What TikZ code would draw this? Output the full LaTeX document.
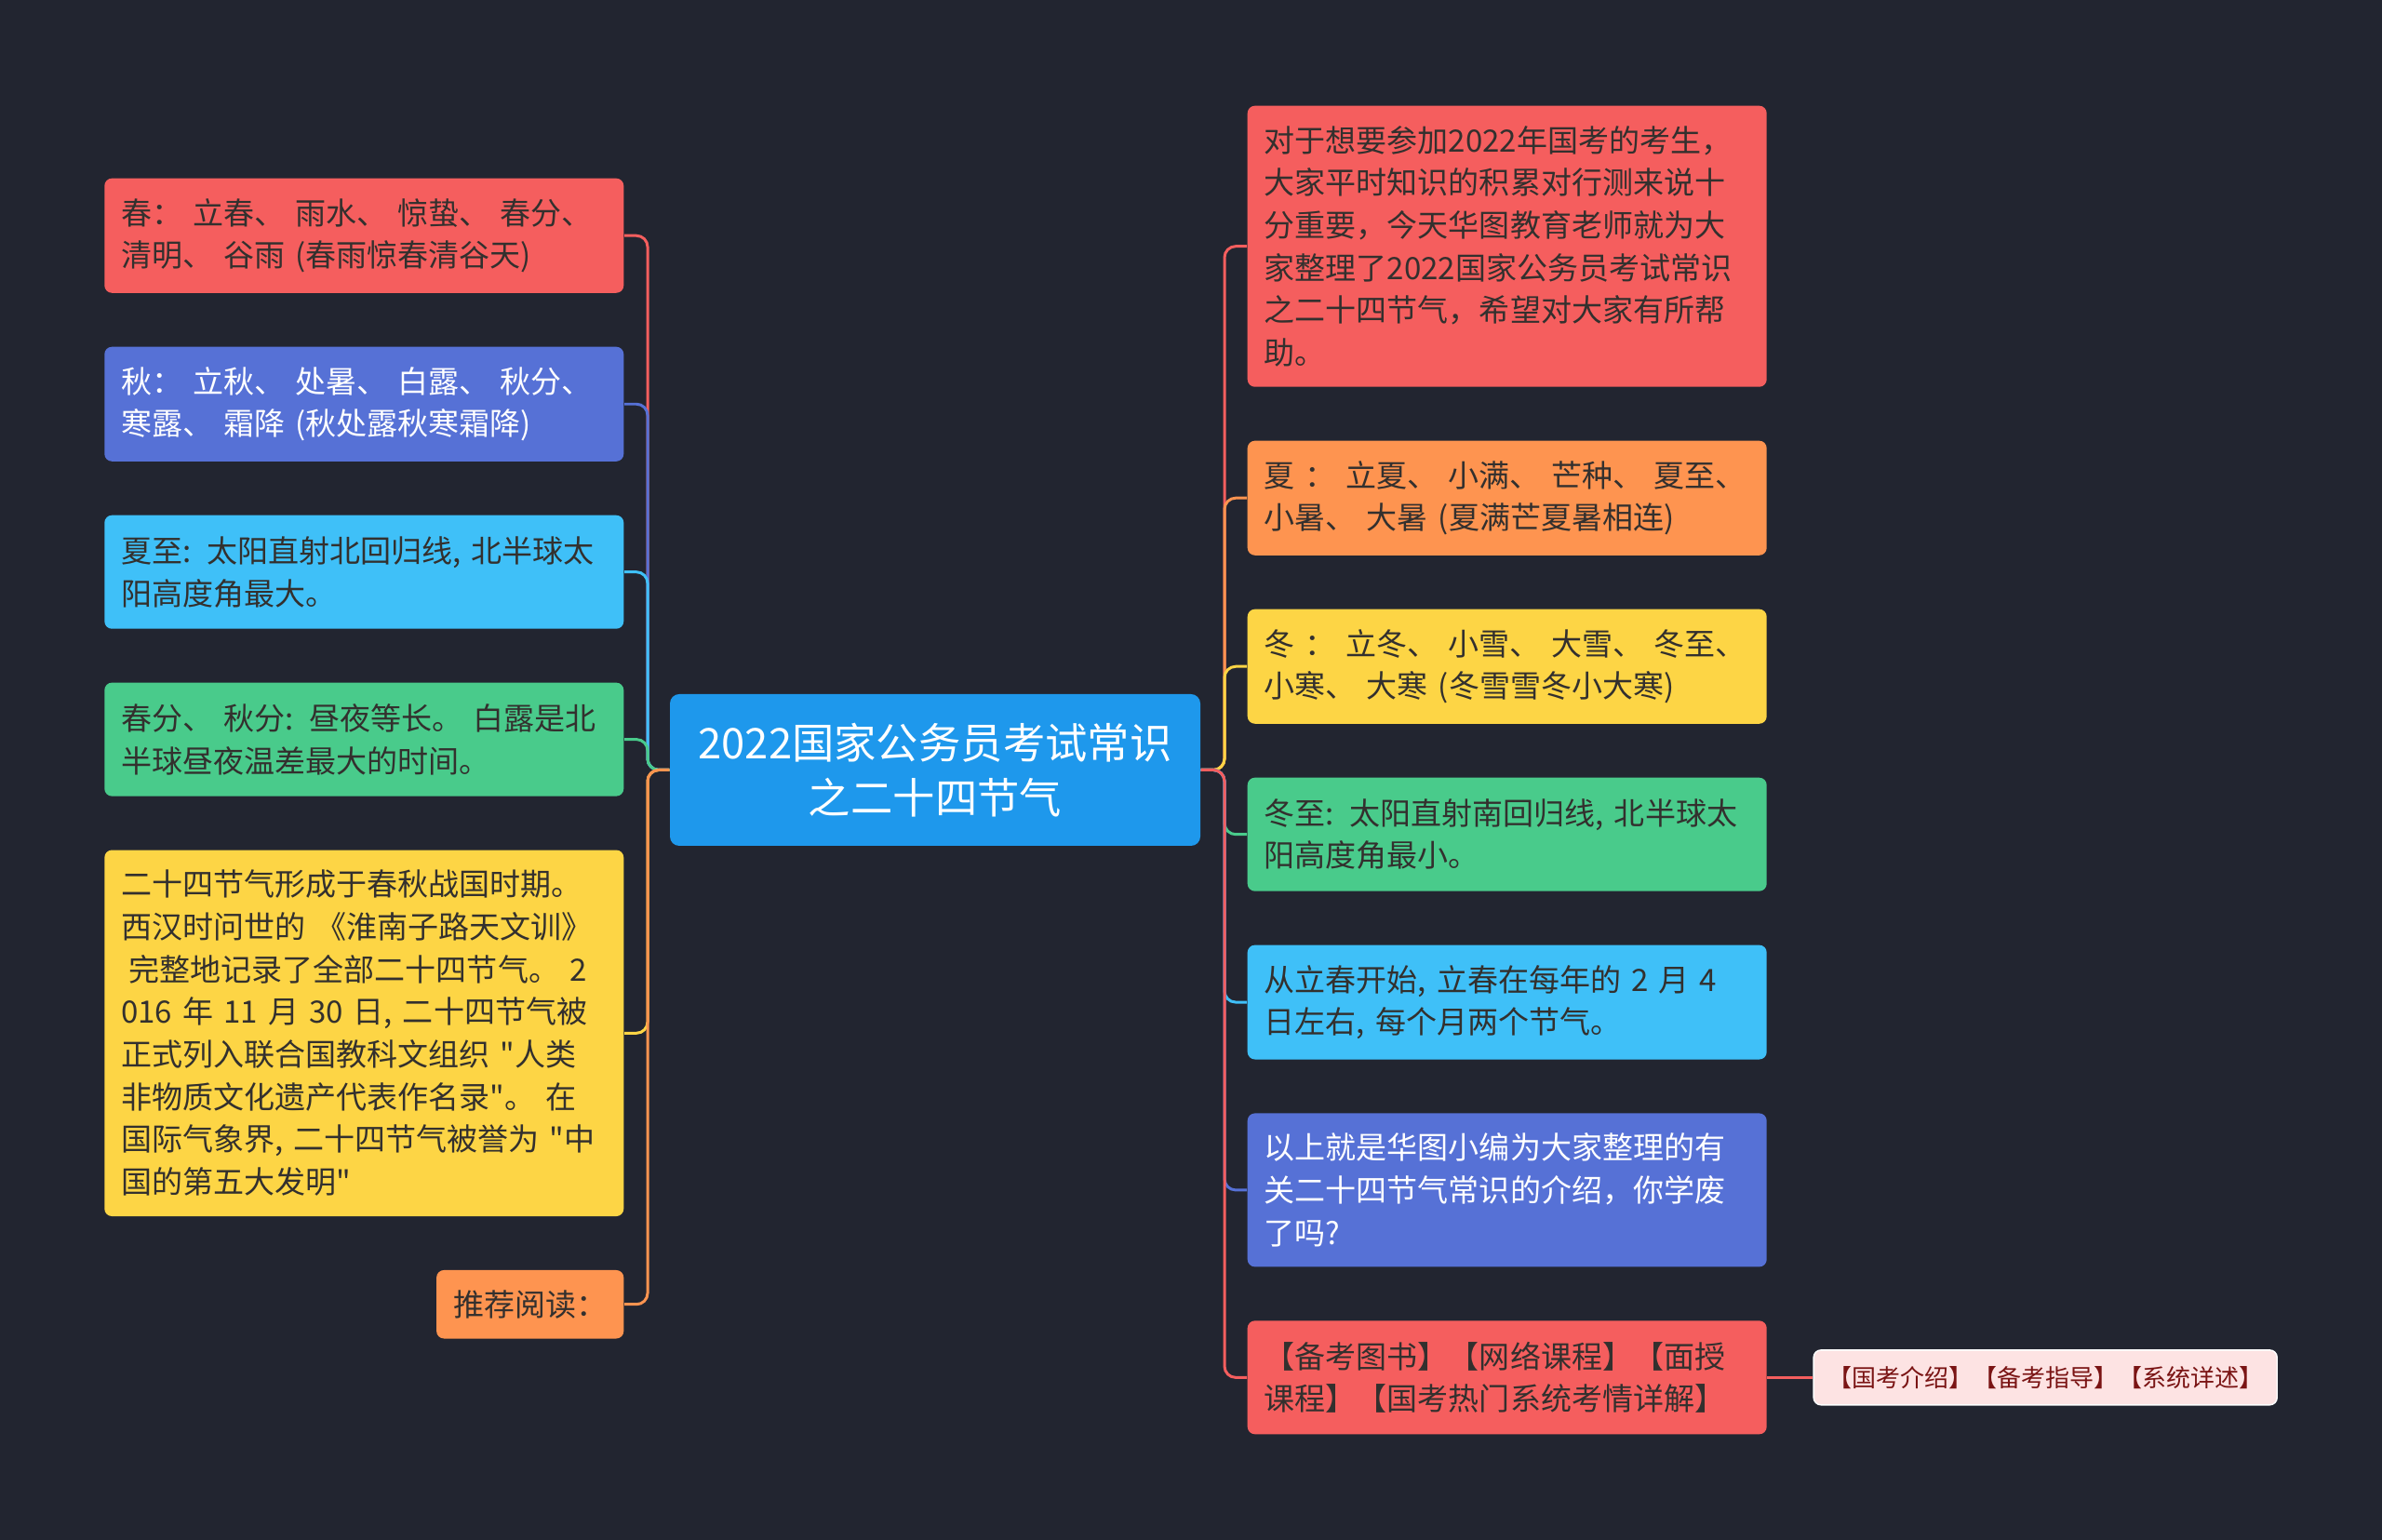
\documentclass[tikz,border=0pt]{standalone}
\usepackage{fontspec}
\setmainfont{Noto Sans CJK SC}[Ligatures=TeXOff]
\usetikzlibrary{positioning}
\definecolor{mBg}{HTML}{222530}
\definecolor{mRed}{HTML}{F55E5E}
\definecolor{mPurple}{HTML}{5671D6}
\definecolor{mSky}{HTML}{3FC0F8}
\definecolor{mGreen}{HTML}{49CB8B}
\definecolor{mYellow}{HTML}{FDD545}
\definecolor{mOrange}{HTML}{FE9450}
\definecolor{mRoot}{HTML}{1E98EC}
\definecolor{mPink}{HTML}{FDE3E3}
\definecolor{mInk}{HTML}{33302E}
\definecolor{mMaroon}{HTML}{7A1414}

\begin{document}
\begin{tikzpicture}[
  box/.style={rounded corners=0.08cm,align=left,inner xsep=0.18cm,inner ysep=0.215cm,text=mInk,font=\fontsize{9.4pt}{13pt}\selectfont},
  leaf/.style={box,text width=5.22cm,minimum height=1.22cm},
  root/.style={rounded corners=0.1cm,fill=mRoot,text=white,align=center,minimum width=5.7cm,minimum height=1.63cm,font=\fontsize{12.9pt}{16.8pt}\selectfont},
  tag/.style={box,fill=mPink,draw=white,text=mMaroon,inner xsep=0.15cm,inner ysep=0.165cm,minimum height=0.59cm,font=\fontsize{7.4pt}{9pt}\selectfont},
  link/.style={line width=0.85pt,rounded corners=0.12cm}
]
\fill[mBg] (0,0) rectangle (25.6,16.55);
\node[root] (root) at (10.05,8.275) {2022国家公务员考试常识\\之二十四节气};
\coordinate (ljoin) at (6.96,8.275);
\coordinate (rjoin) at (13.16,8.275);
% left side
\node[leaf,fill=mRed,anchor=north east] (spring) at (6.71,14.64) {春： 立春、 雨水、 惊蛰、 春分、\\清明、 谷雨 (春雨惊春清谷天)};
\node[leaf,fill=mPurple,text=white,below=0.565cm of spring] (autumn) {秋： 立秋、 处暑、 白露、 秋分、\\寒露、 霜降 (秋处露秋寒霜降)};
\node[leaf,fill=mSky,below=0.565cm of autumn] (solstice) {夏至: 太阳直射北回归线, 北半球太\\阳高度角最大。};
\node[leaf,fill=mGreen,below=0.565cm of solstice] (equinox) {春分、 秋分: 昼夜等长。 白露是北\\半球昼夜温差最大的时间。};
\node[leaf,fill=mYellow,below=0.565cm of equinox] (history) {二十四节气形成于春秋战国时期。\\西汉时问世的~《淮南子路天文训》\\\hspace*{0.25em}完整地记录了全部二十四节气。~2\\016~年~11~月~30~日,~二十四节气被\\正式列入联合国教科文组织~"人类\\非物质文化遗产代表作名录"。~在\\国际气象界,~二十四节气被誉为~"中\\国的第五大发明"};
\node[box,fill=mOrange,below=0.565cm of history.south east,anchor=north east] (reading) {推荐阅读：};
% right side
\node[leaf,fill=mRed,anchor=north west] (intro) at (13.40,15.42) {对于想要参加2022年国考的考生，\\大家平时知识的积累对行测来说十\\分重要，今天华图教育老师就为大\\家整理了2022国家公务员考试常识\\之二十四节气，希望对大家有所帮\\助。};
\node[leaf,fill=mOrange,below=0.565cm of intro] (summer) {夏 ： 立夏、 小满、 芒种、 夏至、\\小暑、 大暑 (夏满芒夏暑相连)};
\node[leaf,fill=mYellow,below=0.565cm of summer] (winter) {冬 ： 立冬、 小雪、 大雪、 冬至、\\小寒、 大寒 (冬雪雪冬小大寒)};
\node[leaf,fill=mGreen,below=0.565cm of winter] (wsolstice) {冬至: 太阳直射南回归线, 北半球太\\阳高度角最小。};
\node[leaf,fill=mSky,below=0.565cm of wsolstice] (start) {从立春开始, 立春在每年的 2 月 4\\日左右, 每个月两个节气。};
\node[leaf,fill=mPurple,text=white,below=0.565cm of start] (outro) {以上就是华图小编为大家整理的有\\关二十四节气常识的介绍，你学废\\了吗?};
\node[leaf,fill=mRed,below=0.565cm of outro] (books) {【备考图书】【网络课程】【面授\\课程】【国考热门系统考情详解】};
\node[tag,right=0.49cm of books] (topics) {【国考介绍】【备考指导】【系统详述】};
% links
\draw[link,mRed] (root.west) -- (ljoin) |- (spring.east);
\draw[link,mPurple] (root.west) -- (ljoin) |- (autumn.east);
\draw[link,mSky] (root.west) -- (ljoin) |- (solstice.east);
\draw[link,mGreen] (root.west) -- (ljoin) |- (equinox.east);
\draw[link,mYellow] (root.west) -- (ljoin) |- (history.east);
\draw[link,mOrange] (root.west) -- (ljoin) |- (reading.east);
\draw[link,mRed] (root.east) -- (rjoin) |- (intro.west);
\draw[link,mOrange] (root.east) -- (rjoin) |- (summer.west);
\draw[link,mYellow] (root.east) -- (rjoin) |- (winter.west);
\draw[link,mGreen] (root.east) -- (rjoin) |- (wsolstice.west);
\draw[link,mSky] (root.east) -- (rjoin) |- (start.west);
\draw[link,mPurple] (root.east) -- (rjoin) |- (outro.west);
\draw[link,mRed] (root.east) -- (rjoin) |- (books.west);
\draw[link,mRed] (books) -- (topics);
\end{tikzpicture}
\end{document}
